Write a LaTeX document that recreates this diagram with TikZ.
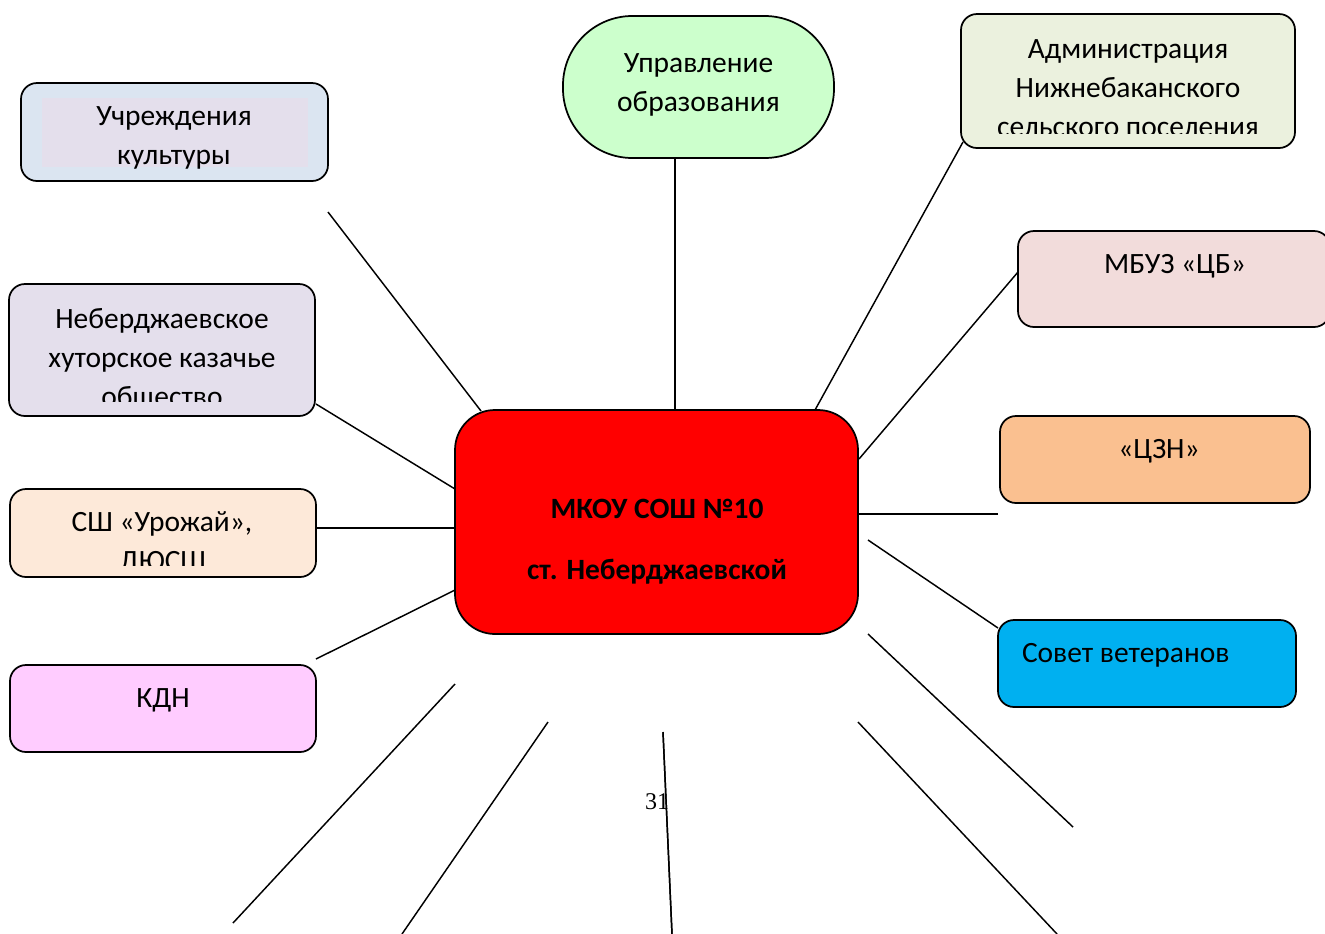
\documentclass[tikz,border=0pt]{standalone}
\usepackage{fontspec}
\setmainfont{Carlito}
\newfontfamily\numfont{Liberation Serif}
\definecolor{cCult}{HTML}{DBE5F1}
\definecolor{cCultIn}{HTML}{E4DFEC}
\definecolor{cUpr}{HTML}{CCFFCC}
\definecolor{cAdm}{HTML}{EBF1DE}
\definecolor{cMed}{HTML}{F2DCDB}
\definecolor{cCzn}{HTML}{FAC090}
\definecolor{cSov}{HTML}{00B0F0}
\definecolor{cKdn}{HTML}{FFCCFF}
\definecolor{cSsh}{HTML}{FDE9D9}
\definecolor{cHub}{HTML}{FF0000}
\tikzset{
  x=0.75pt,y=-0.75pt,
  boxn/.style={draw=black,line width=1.3pt,rounded corners=12pt,inner sep=0pt,outer sep=0pt},
  lbl/.style={anchor=base,inner sep=0pt,outer sep=0pt,font=\fontsize{22.1pt}{26pt}\selectfont,text=black},
  hubl/.style={lbl,font=\fontsize{22.1pt}{26pt}\selectfont\bfseries},
  conn/.style={draw=black,line width=1.1pt}
}
\begin{document}
\begin{tikzpicture}
\useasboundingbox (0,0) rectangle (1325,933);
\clip (0,0) rectangle (1325,933);
% connectors
\coordinate (c1) at (328,212); \coordinate (h1) at (481,411);
\coordinate (c2) at (675,158); \coordinate (h2) at (675,410);
\coordinate (c3) at (963,142); \coordinate (h3) at (815,410);
\coordinate (c4) at (1018,272); \coordinate (h4) at (859,459);
\coordinate (c5) at (998,514); \coordinate (h5) at (859,514);
\coordinate (c6) at (998,628); \coordinate (h6) at (868,540);
\coordinate (c7) at (1073,827); \coordinate (h7) at (868,634);
\coordinate (c8) at (1057,934); \coordinate (h8) at (858,722);
\coordinate (c9) at (672,934); \coordinate (h9) at (663,732);
\coordinate (c10) at (402,934); \coordinate (h10) at (548,722);
\coordinate (c11) at (233,923); \coordinate (h11) at (455,684);
\coordinate (c12) at (316,659); \coordinate (h12) at (455,590);
\coordinate (c13) at (316,528); \coordinate (h13) at (455,528);
\coordinate (c14) at (316,404); \coordinate (h14) at (455,489);
\foreach \n in {1,...,14} \draw[conn] (c\n) -- (h\n);
% page number
\node[anchor=base,inner sep=0pt,font=\fontsize{18pt}{21pt}\numfont] (pg) at (657,809) {31};
\draw[conn] (h9) -- (c9);
% boxes
\node[boxn,fill=cCult,minimum width=230.25pt,minimum height=73.5pt] (cult) at (174.5,132) {};
\fill[cCultIn] (42,98) rectangle (308,167);
\node[boxn,fill=cUpr,minimum width=203.25pt,minimum height=106.5pt,rounded corners=52pt] (upr) at (698.5,87) {};
\node[boxn,fill=cAdm,minimum width=250.5pt,minimum height=100.5pt] (adm) at (1128,81) {};
\node[boxn,fill=cMed,minimum width=234pt,minimum height=72pt] (med) at (1174,279) {};
\node[boxn,fill=cCzn,minimum width=232.5pt,minimum height=65.25pt] (czn) at (1155,459.5) {};
\node[boxn,fill=cSov,minimum width=223.5pt,minimum height=65.25pt] (sov) at (1147,663.5) {};
\node[boxn,fill=cKdn,minimum width=229.5pt,minimum height=65.25pt] (kdn) at (163,708.5) {};
\node[boxn,fill=cSsh,minimum width=229.5pt,minimum height=66pt] (ssh) at (163,533) {};
\node[boxn,fill=cCultIn,minimum width=229.5pt,minimum height=99pt] (neb) at (162,350) {};
\node[boxn,fill=cHub,minimum width=302.25pt,minimum height=168pt,rounded corners=30pt] (hub) at (656.5,522) {};
% labels
\node[lbl] (t1a) at (174,125) {Учреждения};
\node[lbl] (t1b) at (174,164) {культуры};
\node[lbl] (t2a) at (698.5,72) {Управление};
\node[lbl] (t2b) at (698.5,111) {образования};
\node[lbl] (t3a) at (1128,58) {Администрация};
\node[lbl] (t3b) at (1128,97) {Нижнебаканского};
\begin{scope}
\clip (970,100) rectangle (1290,133);
\node[lbl] (t3c) at (1128,136) {сельского поселения};
\end{scope}
\node[lbl] (t4) at (1175,273) {МБУЗ «ЦБ»};
\node[lbl] (t5) at (1159,458) {«ЦЗН»};
\node[lbl,anchor=base west] (t6) at (1022,662) {Совет ветеранов};
\node[lbl] (t7) at (163,707) {КДН};
\node[lbl] (t8a) at (162,531) {СШ «Урожай»,};
\begin{scope}
\clip (20,540) rectangle (300,565);
\node[lbl] (t8b) at (163,570) {ДЮСШ};
\end{scope}
\node[lbl] (t9a) at (162,328) {Неберджаевское};
\node[lbl] (t9b) at (162,367) {хуторское казачье};
\begin{scope}
\clip (20,375) rectangle (300,401);
\node[lbl] (t9c) at (162,406) {общество};
\end{scope}
\node[hubl] (t10a) at (657,518) {МКОУ СОШ №10};
\node[hubl] (t10b) at (657,579) {ст. Неберджаевской};
\end{tikzpicture}
\end{document}
